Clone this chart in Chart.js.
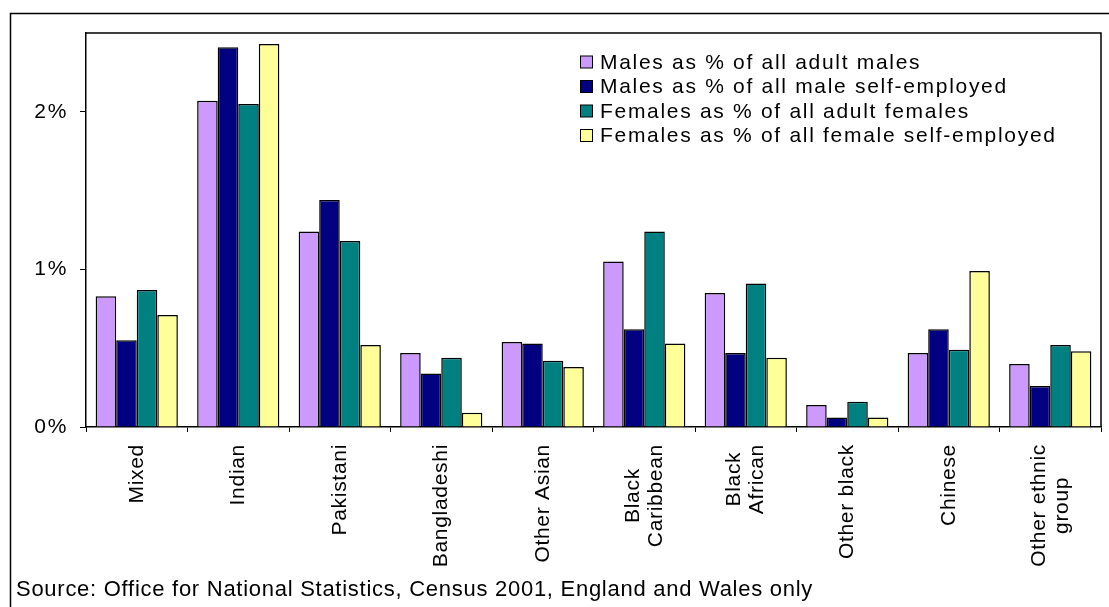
<!DOCTYPE html>
<html>
<head>
<meta charset="utf-8">
<script src="https://cdn.jsdelivr.net/npm/chart.js@4/dist/chart.umd.min.js"></script>
<style>
  html, body { margin: 0; padding: 0; background: #ffffff; }
  #wrap { width: 1109px; height: 607px; }
</style>
</head>
<body>
<div id="wrap"><canvas id="c" width="1109" height="607"></canvas></div>
<script>
const categories = [['Mixed'], ['Indian'], ['Pakistani'], ['Bangladeshi'], ['Other Asian'], ['Black', 'Caribbean'], ['Black', 'African'], ['Other black'], ['Chinese'], ['Other ethnic', 'group']];
const seriesNames = ['Males as % of all adult males', 'Males as % of all male self-employed', 'Females as % of all adult females', 'Females as % of all female self-employed'];
const malesAdult = [0.83, 2.07, 1.24, 0.47, 0.54, 1.05, 0.85, 0.14, 0.47, 0.40];
const malesSelfEmployed = [0.55, 2.41, 1.44, 0.34, 0.53, 0.62, 0.47, 0.06, 0.62, 0.26];
const femalesAdult = [0.87, 2.05, 1.18, 0.44, 0.42, 1.24, 0.91, 0.16, 0.49, 0.52];
const femalesSelfEmployed = [0.71, 2.43, 0.52, 0.09, 0.38, 0.53, 0.44, 0.06, 0.99, 0.48];
const yTickValues = [0, 1, 2];
const sourceNote = 'Source: Office for National Statistics, Census 2001, England and Wales only';

const colors = ['#CC99FF', '#000080', '#008080', '#FFFF99'];
const FONT = '"Liberation Sans", Arial, sans-serif';
const NARROW = '"Liberation Sans Narrow", "Arial Narrow", "Liberation Sans", sans-serif';

const decorPlugin = {
  id: 'decor',
  beforeDraw(chart) {
    chart.ctx.letterSpacing = '1.7px';
  },
  afterDraw(chart) {
    const ctx = chart.ctx;
    const area = chart.chartArea;
    ctx.save();
    // outer frame
    ctx.strokeStyle = '#000';
    ctx.lineWidth = 1.5;
    ctx.beginPath();
    ctx.moveTo(10.5, 607);
    ctx.lineTo(10.5, 13.5);
    ctx.lineTo(1109, 13.5);
    ctx.stroke();
    // plot area frame top & right
    ctx.beginPath();
    ctx.moveTo(area.left, area.top);
    ctx.lineTo(area.right, area.top);
    ctx.lineTo(area.right, area.bottom);
    ctx.stroke();

    // legend
    ctx.font = '21px ' + FONT;
    ctx.letterSpacing = '1.7px';
    ctx.textBaseline = 'middle';
    ctx.textAlign = 'left';
    const rows = [62, 86.5, 111, 135.5];
    chart.data.datasets.forEach((ds, i) => {
      const y = rows[i];
      ctx.fillStyle = ds.backgroundColor;
      ctx.fillRect(580.5, y - 6, 12, 12);
      ctx.strokeStyle = '#000';
      ctx.lineWidth = 1;
      ctx.strokeRect(580.5, y - 6, 12, 12);
      ctx.fillStyle = '#000';
      ctx.fillText(ds.label, 600, y + 1);
    });

    // category labels, rotated
    const xs = chart.scales.x;
    ctx.font = '21px ' + FONT;
    ctx.letterSpacing = '0.7px';
    ctx.fillStyle = '#000';
    ctx.textAlign = 'center';
    ctx.textBaseline = 'middle';
    chart.data.labels.forEach((lines, i) => {
      const cx = xs.getPixelForTick(i);
      const maxW = Math.max(...lines.map(l => ctx.measureText(l).width));
      const yc = 444 + maxW / 2;
      lines.forEach((line, j) => {
        const x = cx + (j - (lines.length - 1) / 2) * 23;
        ctx.save();
        ctx.translate(x, yc);
        ctx.rotate(-Math.PI / 2);
        ctx.fillText(line, 0, 0);
        ctx.restore();
      });
    });

    // source note (condensed face stretched to the reference width)
    ctx.font = '22px ' + NARROW;
    ctx.letterSpacing = '0px';
    const w0 = ctx.measureText(sourceNote).width;
    const sp = Math.max(-1, (797 - w0) / sourceNote.length);
    ctx.letterSpacing = sp.toFixed(2) + 'px';
    ctx.textAlign = 'left';
    ctx.textBaseline = 'alphabetic';
    ctx.fillText(sourceNote, 16, 596);
    ctx.restore();
  }
};

const datasets = [malesAdult, malesSelfEmployed, femalesAdult, femalesSelfEmployed].map((arr, i) => ({
  label: seriesNames[i],
  data: arr,
  backgroundColor: colors[i],
  borderColor: '#000',
  borderWidth: 1.5,
  borderSkipped: 'start',
  categoryPercentage: 0.81,
  barPercentage: 1.0
}));

new Chart(document.getElementById('c'), {
  type: 'bar',
  data: { labels: categories, datasets },
  options: {
    responsive: false,
    animation: false,
    devicePixelRatio: 1,
    layout: { padding: { left: 0, top: 33, right: 8, bottom: 0 } },
    plugins: { legend: { display: false }, tooltip: { enabled: false }, title: { display: false } },
    scales: {
      x: {
        type: 'category',
        grid: { offset: true, drawOnChartArea: false, drawTicks: true, tickLength: 5, color: '#000', lineWidth: 1 },
        border: { display: true, color: '#000', width: 1.5 },
        ticks: { display: false },
        afterFit(scale) { scale.height = 180; }
      },
      y: {
        min: 0,
        max: 2.5,
        grid: { drawOnChartArea: false, drawTicks: true, tickLength: 6, color: '#000', lineWidth: 1 },
        border: { display: true, color: '#000', width: 1.5 },
        ticks: {
          stepSize: 1,
          padding: 12,
          color: '#000',
          font: { family: FONT, size: 21 },
          callback: (v) => v + '%'
        },
        afterBuildTicks(scale) {
          scale.ticks = yTickValues.map(v => ({ value: v }));
        },
        afterFit(scale) { scale.width = 86; }
      }
    }
  },
  plugins: [decorPlugin]
});
</script>
</body>
</html>
